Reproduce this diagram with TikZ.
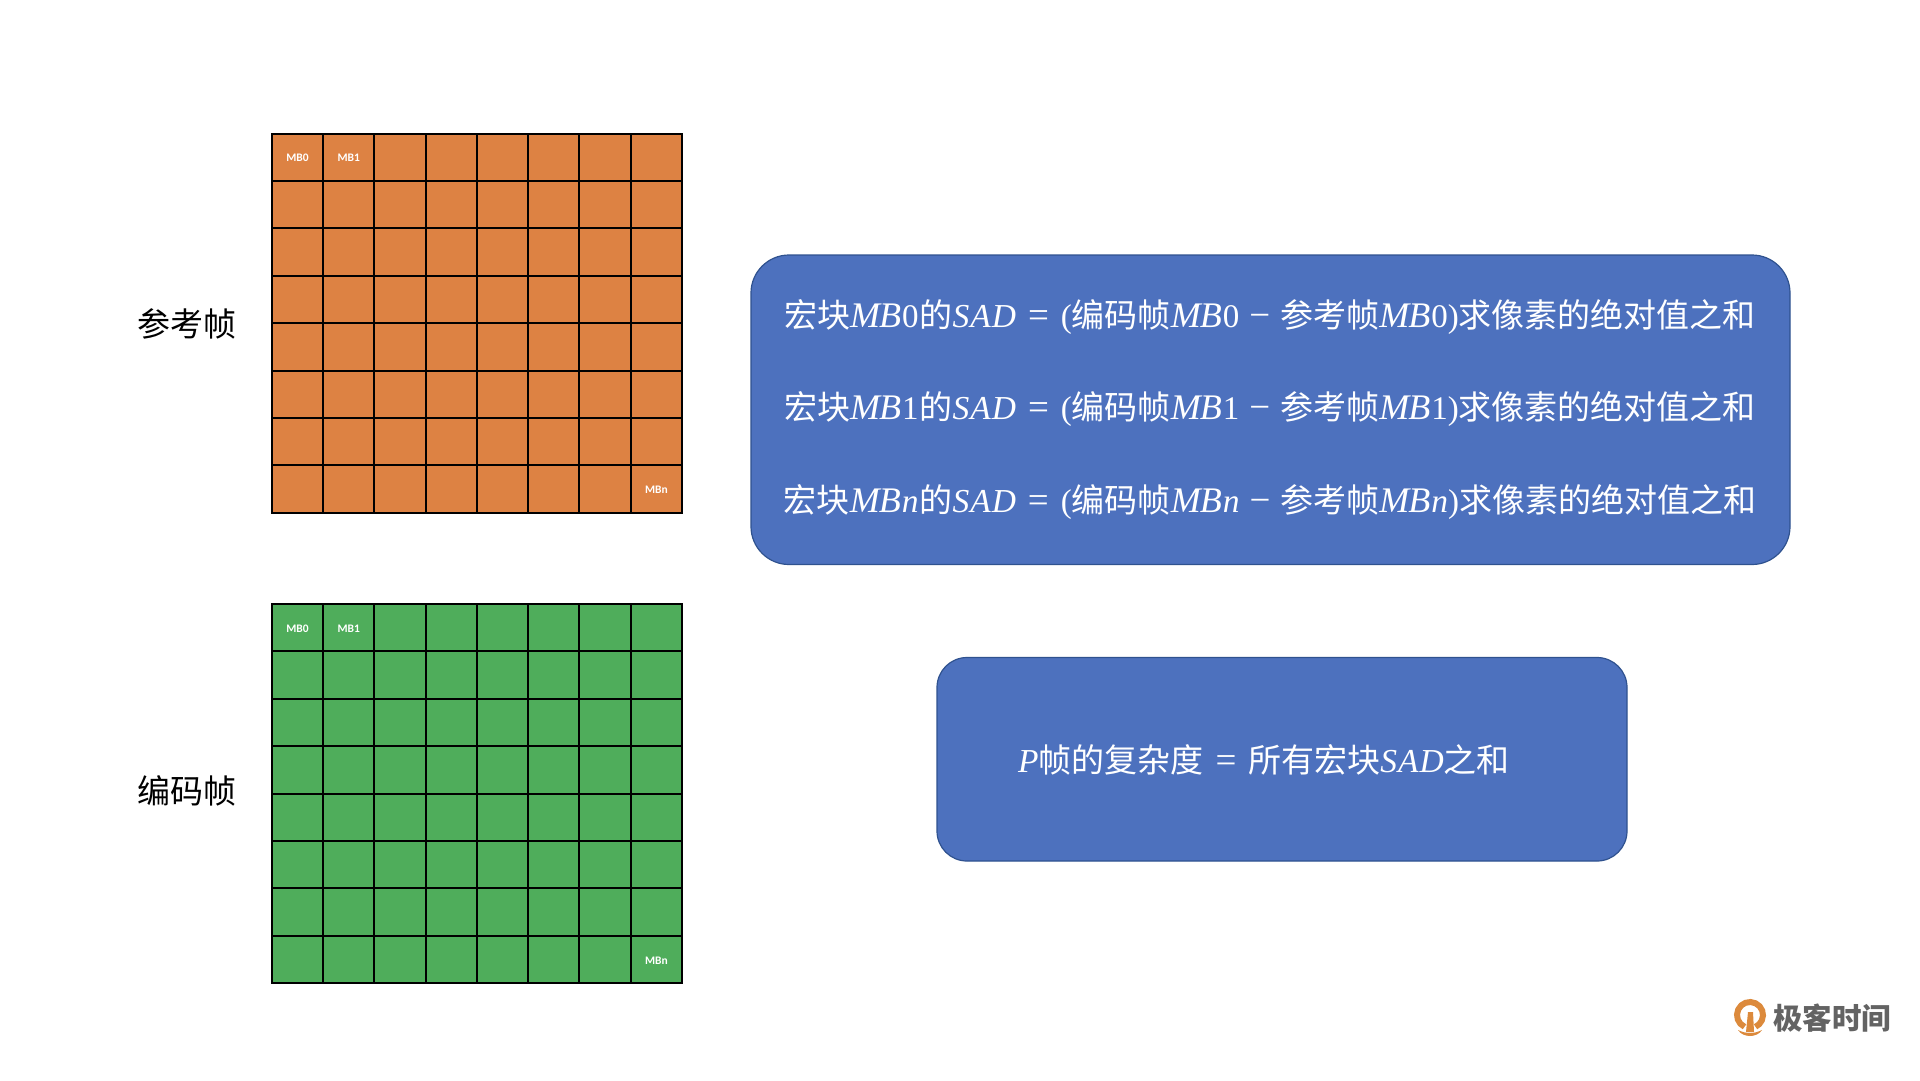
\documentclass[tikz,border=0pt]{standalone}
\usepackage{fontspec}
\setmainfont{Liberation Serif}
\setsansfont{Carlito}
\newfontfamily\cjk{Noto Sans CJK SC}
\newcommand{\zh}[1]{{\cjk #1}}
\newcommand{\vi}[1]{{\itshape\addfontfeature{LetterSpace=3}\fontsize{33.5}{36}\selectfont #1}}
\newcommand{\mbv}{{\itshape\addfontfeature{LetterSpace=3}\fontsize{36}{36}\selectfont M\kern-1pt B}\hspace{1pt}}
\newcommand{\eqs}{\hspace{12pt}{\fontsize{37}{36}\selectfont =}\hspace{12pt}}
\newcommand{\mns}{\hspace{10pt}{\fontsize{37}{36}\selectfont −}\hspace{10pt}}
\newcommand{\sadrow}[1]{\zh{宏块}\mbv #1\hspace{1pt}\zh{的}\vi{SAD}\eqs(\zh{编码帧}\mbv #1\mns\zh{参考帧}\mbv #1)\zh{求像素的绝对值之和}}
\definecolor{refcolor}{HTML}{DD8243}
\definecolor{codecolor}{HTML}{4FAD5B}
\definecolor{boxcolor}{HTML}{4D71BE}
\definecolor{boxline}{HTML}{2F528F}
\definecolor{logotext}{HTML}{636363}
\definecolor{logoring}{HTML}{DC8A3C}
\begin{document}
\begin{tikzpicture}
        [x=1pt, y=-1pt,
        mbcell/.style={draw=black, line width=2pt, minimum width=51.25pt, minimum height=47.4pt, inner sep=0pt},
        mblabel/.style={text=white, yshift=-0.8pt, font=\sffamily\bfseries\fontsize{11.5}{12}\selectfont},
        framelabel/.style={font=\cjk\fontsize{33}{36}\selectfont, inner sep=0pt},
        sadbox/.style={draw=boxline, line width=1.2pt, fill=boxcolor, rounded corners=38pt, inner sep=0pt},
        sadtext/.style={text=white, inner sep=0pt, font=\fontsize{33}{36}\selectfont}]
        \useasboundingbox (0,0) rectangle (1920,1080);
        % reference frame and coded frame
        \foreach \row in {0,...,7} {
            \foreach \col in {0,...,7} {
                \node [mbcell, fill=refcolor] (ref\row\col) at (297.6+51.25*\col, 157.2+47.4*\row) {};
                \node [mbcell, fill=codecolor] (cod\row\col) at (297.6+51.25*\col, 627.7+47.4*\row) {};
            }
        }
        \node [mblabel] at (ref00) {MB0};
        \node [mblabel] at (ref01) {MB1};
        \node [mblabel] at (ref77) {MBn};
        \node [mblabel] at (cod00) {MB0};
        \node [mblabel] at (cod01) {MB1};
        \node [mblabel] at (cod77) {MBn};
        \node [framelabel] (reflabel) at (187,323.5) {参考帧};
        \node [framelabel] (codlabel) at (187,791) {编码帧};
        % formula boxes
        \node [sadbox, minimum width=1039pt, minimum height=309.5pt] (sadall) at (1270.5,409.75) {};
        \node [sadbox, rounded corners=30pt, minimum width=690pt, minimum height=203.5pt] (psum) at (1282,759.25) {};
        \node [sadtext] (sad0) at (1270,316.5) {\sadrow{0}};
        \node [sadtext] (sad1) at (1270,408.5) {\sadrow{1}};
        \node [sadtext] (sadn) at (1270,501.5) {\sadrow{\vi{n}}};
        \node [sadtext] (pcost) at (1264,760) {\vi{P}\zh{帧的复杂度}\eqs\zh{所有宏块}\vi{SAD}\zh{之和}};
        % logo
        \draw [logoring, line width=6pt] (1750,1015) ++(245:13pt) arc (245:-65:13pt);
        \fill [logoring] (1738,1030) .. controls (1746,1034) and (1754,1034) .. (1762,1030)
            .. controls (1757,1038) and (1743,1038) .. (1738,1030);
        \fill [logoring] (1746,1032) -- (1748,1012) -- (1753,1012) -- (1754,1032) -- cycle;
        \node [text=logotext, inner sep=0pt, font=\cjk\bfseries\fontsize{29.5}{30}\selectfont] (logo) at (1832,1018) {极客时间};
    \end{tikzpicture}
\end{document}
